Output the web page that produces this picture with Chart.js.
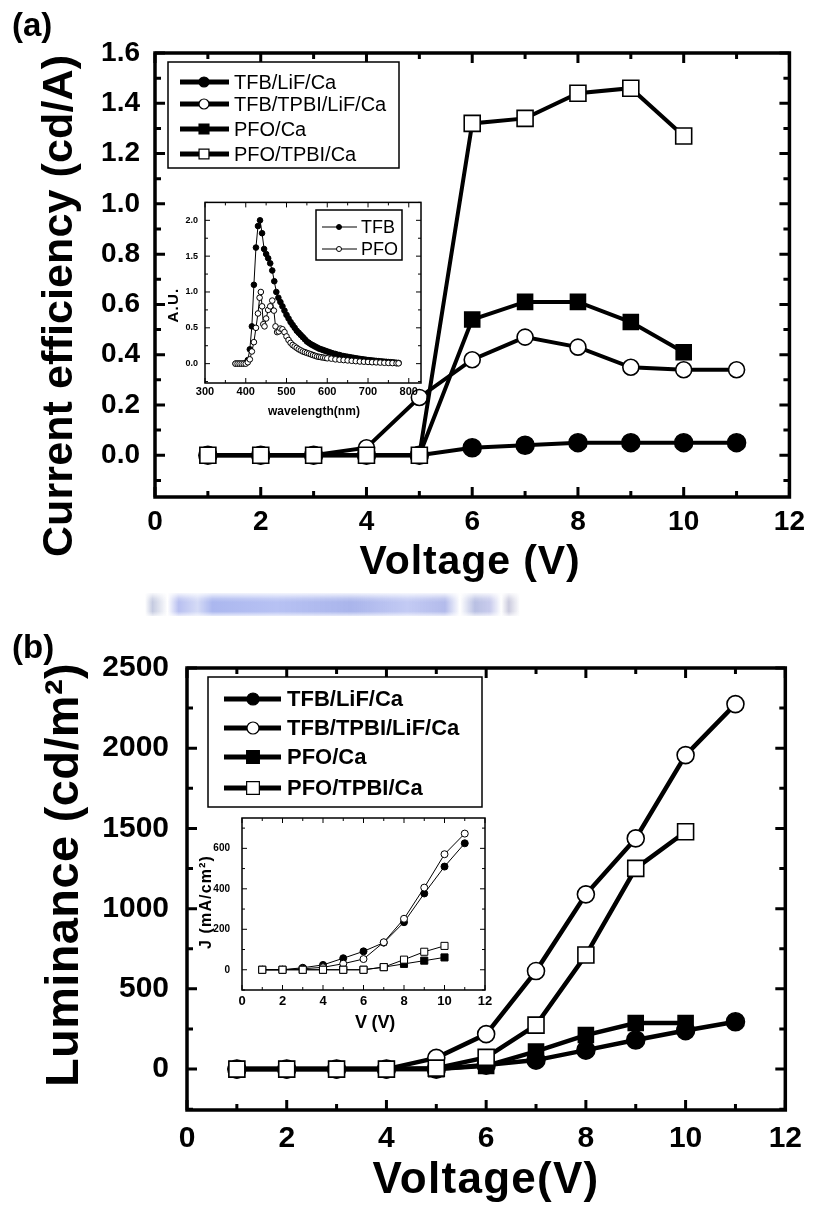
<!DOCTYPE html>
<html>
<head>
<meta charset="utf-8">
<script src="https://cdn.jsdelivr.net/npm/chart.js@4.4.1/dist/chart.umd.min.js"></script>
<style>
body { margin: 0; background: #fff; }
#page { position: relative; width: 813px; height: 1207px; overflow: hidden; background: #fff; }
.box { position: absolute; }
.tag { position: absolute; font: bold 33px "Liberation Sans", Arial, sans-serif; line-height: 1; color: #000; }
#smudge {
	position: absolute; left: 145px; top: 593px; width: 375px; height: 23px;
	background:
		linear-gradient(to bottom, rgba(255,255,255,0.85) 0%, rgba(255,255,255,0.2) 25%, rgba(255,255,255,0) 40%, rgba(255,255,255,0) 80%, rgba(255,255,255,0.7) 100%),
		linear-gradient(to right, rgba(255,255,255,0) 0%, rgba(150,160,200,0.55) 2%, rgba(255,255,255,0) 6%, rgba(160,170,235,0.75) 9%, rgba(185,195,240,0.6) 14%,
			rgba(150,165,235,0.8) 18%, rgba(165,178,240,0.8) 35%, rgba(155,168,232,0.85) 55%, rgba(175,185,240,0.75) 70%, rgba(160,170,230,0.8) 80%,
			rgba(255,255,255,0.2) 84%, rgba(155,165,215,0.7) 88%, rgba(165,170,225,0.6) 92%, rgba(255,255,255,0) 95%, rgba(160,160,195,0.55) 97%, rgba(255,255,255,0) 100%);
}
</style>
</head>
<body>
<div id="page">
	<div class="box" style="left:0;top:0"><canvas id="chartA" width="813" height="600"></canvas></div>
	<div class="box" style="left:150px;top:190px"><canvas id="insetA" width="290" height="240"></canvas></div>
	<div id="smudge"></div>
	<div class="box" style="left:0;top:600px"><canvas id="chartB" width="813" height="607"></canvas></div>
	<div class="box" style="left:180px;top:800px"><canvas id="insetB" width="320" height="235"></canvas></div>
	<div class="tag" style="left:12px;top:8px">(a)</div>
	<div class="tag" style="left:12px;top:630px">(b)</div>
</div>
<script>
// ---- data ----
var voltage = [1, 2, 3, 4, 5, 6, 7, 8, 9, 10, 11];
var voltagePFO = [1, 2, 3, 4, 5, 6, 7, 8, 9, 10];

// (a) current efficiency (cd/A)
var effTfbLif  = [0, 0, 0, 0, 0, 0.03, 0.04, 0.05, 0.05, 0.05, 0.05];
var effTfbTpbi = [0, 0, 0, 0.03, 0.23, 0.38, 0.47, 0.43, 0.35, 0.34, 0.34];
var effPfo     = [0, 0, 0, 0, 0, 0.54, 0.61, 0.61, 0.53, 0.41];
var effPfoTpbi = [0, 0, 0, 0, 0, 1.32, 1.34, 1.44, 1.46, 1.27];

// (a) inset: EL spectra (A.U.)
var tfbWave = [375,380,385,390,395,400,405,410,415,420,425,430,435,440,445,450,455,460,465,470,
	475,480,485,490,495,500,505,510,515,520,525,530,535,540,545,550,555,560,565,570,
	575,580,585,590,595,600,605,610,615,620,625,630,635,640,645,650,655,660,665,670,
	675,680,685,690,695,700,705,710,715,720,725,730,735,740,745,750,755,760,765,770,775];
var tfbAU = [0,0,0,0,0,0.01,0.05,0.2,0.52,1.1,1.62,1.92,2.0,1.82,1.6,1.53,1.47,1.4,1.3,1.15,
	1.0,0.92,0.86,0.8,0.74,0.68,0.63,0.58,0.54,0.5,0.46,0.43,0.4,0.37,0.34,0.31,0.29,0.27,0.255,0.24,
	0.225,0.21,0.2,0.19,0.18,0.17,0.16,0.15,0.14,0.135,0.125,0.12,0.11,0.105,0.1,0.095,0.09,0.085,0.08,0.075,
	0.07,0.066,0.062,0.058,0.054,0.05,0.047,0.044,0.041,0.038,0.035,0.032,0.03,0.027,0.025,0.022,0.02,0.018,0.015,0.012,0.01];
var pfoWave = [375,380,385,390,395,400,405,410,415,420,425,430,434,437,440,443,446,450,455,460,
	465,469,473,477,481,485,490,495,500,505,510,515,520,525,530,535,540,545,550,555,
	560,565,570,575,580,585,590,595,600,610,620,630,640,650,660,670,680,690,700,710,
	720,730,740,750,760,770,775];
var pfoAU = [0,0,0,0,0,0,0.02,0.06,0.17,0.3,0.5,0.7,0.92,1.0,0.8,0.55,0.52,0.63,0.75,0.8,
	0.88,0.74,0.52,0.44,0.45,0.49,0.48,0.44,0.38,0.33,0.29,0.26,0.24,0.22,0.2,0.185,0.17,0.16,0.15,0.14,
	0.13,0.12,0.11,0.1,0.095,0.09,0.085,0.08,0.075,0.07,0.06,0.055,0.05,0.045,0.04,0.035,0.03,0.027,0.024,0.02,
	0.018,0.015,0.012,0.01,0.008,0.005,0.005];

// (b) luminance (cd/m2)
var lumTfbLif  = [0, 0, 0, 0, 0, 25, 56, 118, 181, 240, 295];
var lumTfbTpbi = [0, 0, 0, 0, 70, 218, 611, 1089, 1438, 1957, 2275];
var lumPfo     = [0, 0, 0, 0, 0, 20, 110, 212, 287, 287];
var lumPfoTpbi = [0, 0, 0, 0, 6, 73, 274, 711, 1251, 1479];

// (b) inset: current density (mA/cm2)
var jTfbLif  = [0, 0, 10, 24, 57, 91, 134, 235, 377, 510, 625];
var jTfbTpbi = [0, 0, 5, 12, 30, 53, 136, 252, 406, 571, 673];
var jPfo     = [0, 0, 0, 0, 0, 0, 13, 29, 45, 61];
var jPfoTpbi = [0, 0, 0, 0, 0, 0, 13, 50, 89, 118];

// tick labels
var voltTicks = [0, 2, 4, 6, 8, 10, 12];
var effTicks = [0, 0.2, 0.4, 0.6, 0.8, 1.0, 1.2, 1.4, 1.6];
var waveTicks = [300, 400, 500, 600, 700, 800];
var auTicks = [0, 0.5, 1.0, 1.5, 2.0];
var lumTicks = [0, 500, 1000, 1500, 2000, 2500];
var jTicks = [0, 200, 400, 600];

var SANS = '"Liberation Sans", Arial, sans-serif';
Chart.defaults.color = '#000';

//helpers
function series(label, xs, ys, style, filled, r, lw, order)
{
	return {
		label: label,
		data: xs.map(function(x, i){ return {x: x, y: ys[i]}; }),
		borderColor: '#000',
		borderWidth: lw,
		pointStyle: style,
		pointRadius: r,
		pointBackgroundColor: filled ? '#000' : '#fff',
		pointBorderColor: '#000',
		pointBorderWidth: lw > 2 ? 1.6 : 1,
		tension: 0,
		fill: false,
		order: order
	};
}
function axis(min, max, values, font, pad, fmt, prop, size)
{
	return {
		type: 'linear', min: min, max: max,
		grid: {display: false, drawTicks: false},
		border: {display: false},
		afterBuildTicks: function(s){ s.ticks = values.map(function(v){ return {value: v}; }); },
		afterFit: function(s){ s[prop] = size; },
		ticks: {font: font, padding: pad, color: '#000', autoSkip: false, maxRotation: 0, callback: fmt}
	};
}
function minorOf(scale)
{
	var v = scale.ticks.map(function(t){ return t.value; });
	var out = [];
	for(var i = 0; i < v.length - 1; i++)
		out.push((v[i] + v[i + 1]) / 2);
	var h = (v[1] - v[0]) / 2;
	if(v[0] - h >= scale.min - 1e-9) out.push(v[0] - h);
	if(v[v.length - 1] + h <= scale.max + 1e-9) out.push(v[v.length - 1] + h);
	return out;
}
function drawMarker(ctx, style, x, y, r, fill, bw)
{
	ctx.beginPath();
	if(style == 'rect')
	{
		var s = r * Math.SQRT1_2;
		ctx.rect(x - s, y - s, 2 * s, 2 * s);
	}
	else
		ctx.arc(x, y, r, 0, Math.PI * 2);
	ctx.fillStyle = fill;
	ctx.fill();
	ctx.lineWidth = bw;
	ctx.strokeStyle = '#000';
	ctx.stroke();
}
function drawTitle(ctx, t)
{
	ctx.save();
	ctx.font = t.font;
	ctx.fillStyle = '#000';
	ctx.textAlign = 'center';
	ctx.textBaseline = 'alphabetic';
	if(t.width && ('letterSpacing' in ctx))
	{
		var w = ctx.measureText(t.text).width;
		ctx.letterSpacing = ((t.width - w) / t.text.length).toFixed(2) + 'px';
	}
	ctx.translate(t.x, t.y);
	if(t.rotate) ctx.rotate(-Math.PI / 2);
	ctx.fillText(t.text, 0, 0);
	ctx.restore();
}
function drawLegend(chart, L)
{
	var ctx = chart.ctx;
	ctx.fillStyle = '#fff';
	ctx.fillRect(L.box[0], L.box[1], L.box[2] - L.box[0], L.box[3] - L.box[1]);
	ctx.lineWidth = L.boxLine;
	ctx.strokeStyle = '#000';
	ctx.strokeRect(L.box[0], L.box[1], L.box[2] - L.box[0], L.box[3] - L.box[1]);
	chart.data.datasets.forEach(function(d, i)
	{
		var y = L.rows[i];
		ctx.lineWidth = L.lineWidth;
		ctx.strokeStyle = '#000';
		ctx.beginPath();
		ctx.moveTo(L.line[0], y);
		ctx.lineTo(L.line[1], y);
		ctx.stroke();
		drawMarker(ctx, d.pointStyle, L.mark, y, d.pointStyle == 'rect' ? L.rectRadius : L.radius, d.pointBackgroundColor, L.markLine);
		ctx.fillStyle = '#000';
		ctx.font = L.font;
		ctx.textAlign = 'left';
		ctx.textBaseline = 'middle';
		ctx.fillText(d.label, L.text, y + 1);
	});
}

//frame, inward ticks, legend and titles
var framePlugin = {
	id: 'frame',
	afterDraw: function(chart, args, o)
	{
		var ctx = chart.ctx, a = chart.chartArea;
		var xs = chart.scales.x, ys = chart.scales.y;
		ctx.save();
		ctx.strokeStyle = '#000';
		ctx.lineWidth = o.tickWidth;
		var xt = xs.ticks.map(function(t){ return [t.value, o.major]; }).concat(minorOf(xs).map(function(v){ return [v, o.minor]; }));
		xt.forEach(function(t)
		{
			var p = xs.getPixelForValue(t[0]);
			ctx.beginPath();
			ctx.moveTo(p, a.bottom); ctx.lineTo(p, a.bottom - t[1]);
			ctx.moveTo(p, a.top); ctx.lineTo(p, a.top + t[1]);
			ctx.stroke();
		});
		var yt = ys.ticks.map(function(t){ return [t.value, o.major]; }).concat(minorOf(ys).map(function(v){ return [v, o.minor]; }));
		yt.forEach(function(t)
		{
			var p = ys.getPixelForValue(t[0]);
			ctx.beginPath();
			ctx.moveTo(a.left, p); ctx.lineTo(a.left + t[1], p);
			ctx.moveTo(a.right, p); ctx.lineTo(a.right - t[1], p);
			ctx.stroke();
		});
		ctx.lineWidth = o.frameWidth;
		ctx.strokeRect(a.left, a.top, a.right - a.left, a.bottom - a.top);
		if(o.legend) drawLegend(chart, o.legend);
		(o.titles || []).forEach(function(t){ drawTitle(ctx, t); });
		ctx.restore();
	}
};

function baseOptions(pad, scales, frame)
{
	return {
		responsive: false,
		animation: false,
		events: [],
		layout: {padding: pad},
		plugins: {legend: {display: false}, tooltip: {enabled: false}, frame: frame},
		scales: scales
	};
}
var fmt1 = function(v){ return Number(v).toFixed(1); };
var fmt0 = function(v){ return String(v); };

// (a) main
new Chart(document.getElementById('chartA'), {
	type: 'line',
	data: {datasets: [
		series('TFB/LiF/Ca', voltage, effTfbLif, 'circle', true, 9, 4, 3),
		series('TFB/TPBI/LiF/Ca', voltage, effTfbTpbi, 'circle', false, 8, 4, 2),
		series('PFO/Ca', voltagePFO, effPfo, 'rect', true, 10.6, 4, 1),
		series('PFO/TPBI/Ca', voltagePFO, effPfoTpbi, 'rect', false, 11.3, 4, 0)
	]},
	options: baseOptions({left: 0, top: 53, right: 21, bottom: 0}, {
		x: axis(0, 12, voltTicks, {family: SANS, size: 28, weight: 'bold'}, 8, fmt0, 'height', 103),
		y: axis(-0.166, 1.6, effTicks, {family: SANS, size: 28, weight: 'bold'}, 15, fmt1, 'width', 155)
	}, {
		frameWidth: 3.5, tickWidth: 3, major: 10, minor: 6,
		legend: {box: [168, 62, 399, 168], boxLine: 1.5, rows: [82, 104, 129, 154], line: [180, 229], lineWidth: 5,
			mark: 204, radius: 5, rectRadius: 7, markLine: 1.2, text: 234, font: '20px ' + SANS},
		titles: [
			{text: 'Voltage (V)', x: 470, y: 574, font: 'bold 41px ' + SANS, width: 221},
			{text: 'Current efficiency (cd/A)', x: 72, y: 306, font: 'bold 43px ' + SANS, width: 502, rotate: true}
		]
	}),
	plugins: [framePlugin]
});

// (a) inset
new Chart(document.getElementById('insetA'), {
	type: 'line',
	data: {datasets: [
		series('TFB', tfbWave, tfbAU, 'circle', true, 2.8, 1, 1),
		series('PFO', pfoWave, pfoAU, 'circle', false, 2.8, 1, 0)
	]},
	options: baseOptions({left: 0, top: 12, right: 19, bottom: 0}, {
		x: axis(300, 830, waveTicks, {family: SANS, size: 11, weight: 'bold'}, 2, fmt0, 'height', 47),
		y: axis(-0.27, 2.25, auTicks, {family: SANS, size: 9, weight: 'bold'}, 7, fmt1, 'width', 55)
	}, {
		frameWidth: 1.5, tickWidth: 1, major: 5, minor: 3,
		legend: {box: [166, 20, 252, 70], boxLine: 1.5, rows: [37, 59], line: [172, 207], lineWidth: 1,
			mark: 189, radius: 2.5, rectRadius: 3.5, markLine: 1, text: 211, font: '18px ' + SANS},
		titles: [
			{text: 'wavelength(nm)', x: 164, y: 225, font: 'bold 12px ' + SANS, width: 92},
			{text: 'A.U.', x: 28, y: 115, font: 'bold 15px ' + SANS, width: 35, rotate: true}
		]
	}),
	plugins: [framePlugin]
});

// (b) main
new Chart(document.getElementById('chartB'), {
	type: 'line',
	data: {datasets: [
		series('TFB/LiF/Ca', voltage, lumTfbLif, 'circle', true, 9, 4.5, 3),
		series('TFB/TPBI/LiF/Ca', voltage, lumTfbTpbi, 'circle', false, 8.5, 4.5, 2),
		series('PFO/Ca', voltagePFO, lumPfo, 'rect', true, 10.6, 4.5, 1),
		series('PFO/TPBI/Ca', voltagePFO, lumPfoTpbi, 'rect', false, 11.3, 4.5, 0)
	]},
	options: baseOptions({left: 0, top: 68, right: 23, bottom: 0}, {
		x: axis(0, 12, voltTicks, {family: SANS, size: 30, weight: 'bold'}, 11, fmt0, 'height', 97),
		y: axis(-255, 2500, lumTicks, {family: SANS, size: 30, weight: 'bold'}, 18, fmt0, 'width', 187)
	}, {
		frameWidth: 3.5, tickWidth: 3, major: 10, minor: 6,
		legend: {box: [208, 77, 482, 207], boxLine: 1.5, rows: [99, 128, 157, 188], line: [224, 281], lineWidth: 5,
			mark: 253, radius: 6, rectRadius: 9, markLine: 1.2, text: 287, font: 'bold 22px ' + SANS},
		titles: [
			{text: 'Voltage(V)', x: 486, y: 593, font: 'bold 44px ' + SANS, width: 227},
			{text: 'Luminance (cd/m\u00b2)', x: 78, y: 275, font: 'bold 47px ' + SANS, width: 424, rotate: true}
		]
	}),
	plugins: [framePlugin]
});

// (b) inset
new Chart(document.getElementById('insetB'), {
	type: 'line',
	data: {datasets: [
		series('TFB/LiF/Ca', voltage, jTfbLif, 'circle', true, 3.5, 1, 3),
		series('TFB/TPBI/LiF/Ca', voltage, jTfbTpbi, 'circle', false, 3.5, 1, 2),
		series('PFO/Ca', voltagePFO, jPfo, 'rect', true, 5, 1, 1),
		series('PFO/TPBI/Ca', voltagePFO, jPfoTpbi, 'rect', false, 5, 1, 0)
	]},
	options: baseOptions({left: 0, top: 15, right: 15, bottom: 0}, {
		x: axis(0, 12, voltTicks, {family: SANS, size: 13, weight: 'bold'}, 4, fmt0, 'height', 45),
		y: axis(-100, 750, jTicks, {family: SANS, size: 10, weight: 'bold'}, 12, fmt0, 'width', 62)
	}, {
		frameWidth: 1.5, tickWidth: 1, major: 5, minor: 3,
		titles: [
			{text: 'V (V)', x: 195, y: 228, font: 'bold 18px ' + SANS, width: 40},
			{text: 'J (mA/cm\u00b2)', x: 31, y: 102, font: 'bold 16px ' + SANS, width: 94, rotate: true}
		]
	}),
	plugins: [framePlugin]
});
</script>
</body>
</html>
